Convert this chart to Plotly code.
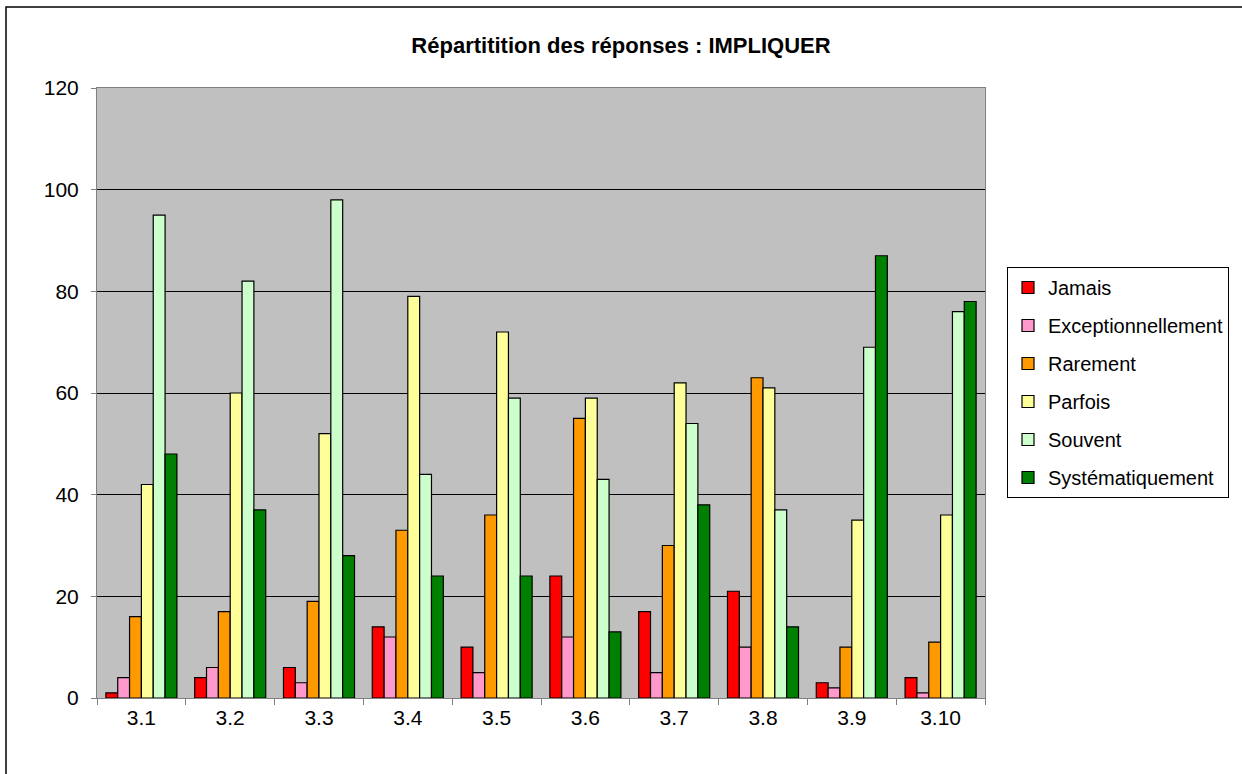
import plotly.graph_objects as go

categories = ["3.1", "3.2", "3.3", "3.4", "3.5", "3.6", "3.7", "3.8", "3.9", "3.10"]

jamais = [1, 4, 6, 14, 10, 24, 17, 21, 3, 4]
exceptionnellement = [4, 6, 3, 12, 5, 12, 5, 10, 2, 1]
rarement = [16, 17, 19, 33, 36, 55, 30, 63, 10, 11]
parfois = [42, 60, 52, 79, 72, 59, 62, 61, 35, 36]
souvent = [95, 82, 98, 44, 59, 43, 54, 37, 69, 76]
systematiquement = [48, 37, 28, 24, 24, 13, 38, 14, 87, 78]

series = [
    ("Jamais", jamais, "#FF0000"),
    ("Exceptionnellement", exceptionnellement, "#FF99CC"),
    ("Rarement", rarement, "#FF9900"),
    ("Parfois", parfois, "#FFFF99"),
    ("Souvent", souvent, "#CCFFCC"),
    ("Systématiquement", systematiquement, "#008000"),
]

fig = go.Figure()
for i, (name, vals, color) in enumerate(series):
    fig.add_trace(go.Bar(
        x=categories, y=vals, name=name, legendgroup=f"g{i}",
        marker=dict(color=color, line=dict(color="#000000", width=1.2)),
    ))

font = "Liberation Sans, Arial, sans-serif"

fig.update_layout(
    width=1242, height=774,
    margin=dict(l=97, r=257, t=88, b=76),
    paper_bgcolor="#FFFFFF",
    plot_bgcolor="#C0C0C0",
    barmode="group",
    bargap=0.2,
    bargroupgap=0,
    font=dict(family=font, size=21, color="#000000"),
    title=dict(
        text="<b>Répartitition des réponses : IMPLIQUER</b>",
        x=621 / 1242, xanchor="center",
        y=1 - 45 / 774, yanchor="middle",
        font=dict(family=font, size=22, color="#000000"),
    ),
    showlegend=True,
    legend=dict(
        x=(1007 - 97) / 888, xanchor="left",
        y=1 - (267 - 88) / 610, yanchor="top",
        bordercolor="#000000", borderwidth=1,
        bgcolor="#FFFFFF",
        font=dict(family=font, size=20),
        tracegroupgap=9,
        traceorder="grouped",
        itemwidth=30,
    ),
    xaxis=dict(
        type="category",
        tickson="boundaries",
        ticks="outside", ticklen=6, tickcolor="#808080",
        showline=True, linecolor="#808080", linewidth=1, mirror=True,
        showgrid=False,
        ticklabelstandoff=1,
        tickfont=dict(family=font, size=21),
    ),
    yaxis=dict(
        range=[0, 120], dtick=20,
        ticks="outside", ticklen=5, tickcolor="#808080",
        showline=True, linecolor="#808080", linewidth=1, mirror=True,
        showgrid=True, gridcolor="#000000", gridwidth=1,
        zeroline=False,
        ticklabelstandoff=8,
        tickfont=dict(family=font, size=21),
    ),
)

# outer chart frame
fig.add_shape(
    type="rect", xref="paper", yref="paper",
    x0=(6 - 97) / 888, x1=(1260 - 97) / 888,
    y0=1 - (790 - 88) / 610, y1=1 + (88 - 7) / 610,
    line=dict(color="#000000", width=1.5), fillcolor="rgba(0,0,0,0)",
    layer="below",
)

fig.write_html("out.html")
